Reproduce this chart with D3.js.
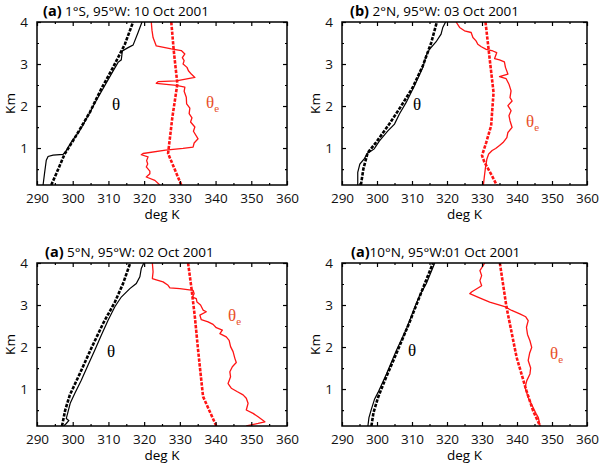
<!DOCTYPE html>
<html>
<head>
<meta charset="utf-8">
<script src="https://cdn.jsdelivr.net/npm/d3@7"></script>
<style>
  body { margin: 0; background: #fff; }
  svg { font-family: "Open Sans", "DejaVu Sans", sans-serif; }
  .domain { display: none; }
</style>
</head>
<body>
<div id="chart"></div>
<script>
// ------------------------------------------------------------
// data: [deg K, km]
// ------------------------------------------------------------
const xTicks = [290, 300, 310, 320, 330, 340, 350, 360];
const yTicks = [1, 2, 3, 4];

// (a) 1S
const thetaObs1 = [[291.7,0.12],[292.1,0.39],[292.6,0.71],[293.1,0.80],[294.5,0.83],[297.3,0.85],[298.2,0.94],[299.6,1.14],[302.0,1.42],[304.3,1.77],[306.6,2.13],[309.0,2.49],[310.8,2.76],[312.7,3.04],[313.6,3.10],[313.9,3.31],[315.5,3.39],[316.9,3.45],[318.3,3.75],[319.4,4.0]];
const thetaRef1 = [[294.0,0.12],[295.4,0.39],[296.8,0.67],[297.7,0.85],[301.0,1.30],[304.8,1.85],[308.0,2.41],[311.3,2.92],[314.6,3.47],[316.9,4.0]];
const thetaeObs1 = [[322.0,4.0],[322.2,3.80],[322.5,3.63],[323.4,3.43],[327.6,3.36],[330.4,3.32],[331.4,3.24],[330.7,3.15],[331.2,3.08],[330.9,3.00],[332.0,2.92],[332.4,2.84],[333.2,2.76],[334.2,2.68],[329.0,2.60],[323.9,2.58],[323.4,2.54],[329.0,2.49],[331.4,2.45],[331.2,2.35],[331.8,2.21],[331.9,2.05],[332.8,1.95],[332.6,1.82],[333.4,1.72],[333.0,1.62],[334.2,1.50],[333.8,1.40],[335.1,1.22],[334.0,1.12],[333.7,1.02],[330.9,0.99],[326.0,0.95],[319.7,0.87],[319.2,0.84],[321.1,0.79],[320.7,0.70],[321.0,0.62],[320.6,0.55],[321.6,0.45],[321.6,0.39],[320.6,0.31],[323.0,0.23],[324.4,0.12]];
const thetaeRef1 = [[330.4,0.12],[326.7,0.87],[327.9,1.73],[329.3,2.53],[328.3,3.31],[327.6,4.0]];

// (b) 2N
const thetaObs2 = [[294.5,0.12],[294.5,0.42],[295.1,0.62],[296.4,0.75],[297.3,0.88],[298.0,0.91],[299.2,0.98],[300.7,1.17],[303.1,1.41],[305.0,1.57],[306.4,1.81],[308.3,2.08],[310.7,2.48],[313.1,2.92],[314.0,3.19],[315.0,3.35],[316.9,3.53],[318.3,3.71],[318.8,3.87],[319.6,4.0]];
const thetaRef2 = [[295.4,0.12],[296.1,0.50],[297.3,0.88],[299.7,1.13],[303.5,1.57],[306.9,2.0],[310.2,2.44],[313.1,2.96],[315.5,3.51],[317.1,4.0]];
const thetaeObs2 = [[322.6,4.0],[323.6,3.87],[325.0,3.79],[326.9,3.75],[327.4,3.63],[328.3,3.55],[328.8,3.47],[329.8,3.41],[331.2,3.35],[333.1,3.31],[334.2,3.27],[333.6,3.13],[335.0,3.10],[336.4,3.05],[336.7,2.92],[337.4,2.76],[335.0,2.70],[336.9,2.65],[337.7,2.52],[338.3,2.36],[338.0,2.20],[338.6,2.12],[337.4,2.01],[338.3,1.89],[337.7,1.77],[338.0,1.65],[338.6,1.49],[337.4,1.37],[337.1,1.25],[336.0,1.13],[335.0,1.06],[333.9,0.99],[332.9,0.94],[331.9,0.86],[331.4,0.74],[331.0,0.54],[330.7,0.34],[330.4,0.12]];
const thetaeRef2 = [[331.0,4.0],[332.1,3.19],[333.3,2.32],[332.6,1.53],[331.2,1.13],[330.0,0.82],[330.7,0.66],[332.6,0.38],[334.2,0.12]];

// (a) 5N
const thetaObs3 = [[297.5,0.12],[298.2,0.18],[298.9,0.25],[298.2,0.30],[298.7,0.46],[299.3,0.66],[300.6,0.90],[302.4,1.21],[304.3,1.57],[306.2,1.93],[308.0,2.28],[309.9,2.64],[311.8,2.96],[313.6,3.19],[316.0,3.39],[317.8,3.51],[318.8,3.67],[319.2,3.87],[319.9,4.0]];
const thetaRef3 = [[297.0,0.12],[297.9,0.50],[299.2,0.86],[302.0,1.37],[305.2,1.97],[308.5,2.56],[311.8,3.07],[314.1,3.51],[316.1,4.0]];
const thetaeObs3 = [[322.3,4.0],[322.5,3.79],[322.3,3.63],[323.4,3.60],[325.3,3.55],[326.7,3.47],[327.2,3.41],[330.0,3.39],[333.7,3.35],[334.0,3.27],[333.5,3.19],[334.6,3.15],[334.8,3.07],[335.8,3.00],[336.5,2.88],[337.4,2.84],[335.6,2.76],[336.0,2.65],[337.9,2.60],[339.3,2.54],[340.2,2.46],[341.9,2.40],[341.2,2.32],[343.0,2.24],[343.8,2.16],[344.2,2.01],[344.9,1.89],[345.4,1.73],[345.8,1.63],[344.7,1.53],[344.0,1.41],[344.2,1.29],[343.5,1.13],[344.4,1.02],[346.0,0.94],[347.7,0.86],[348.6,0.78],[349.1,0.66],[348.6,0.50],[350.5,0.42],[351.9,0.34],[353.8,0.22],[351.9,0.18],[348.6,0.12]];
const thetaeRef3 = [[332.3,4.0],[333.2,3.43],[334.2,2.72],[335.1,1.93],[336.0,1.21],[336.5,0.82],[338.4,0.46],[340.2,0.12]];

// (a) 10N
const thetaObs4 = [[297.4,0.12],[297.7,0.32],[298.4,0.52],[299.3,0.76],[300.3,0.92],[302.7,1.36],[305.5,1.91],[308.4,2.43],[310.8,2.95],[312.2,3.23],[314.1,3.51],[316.5,4.0]];
const thetaRef4 = [[298.4,0.12],[299.0,0.44],[300.3,0.80],[302.2,1.20],[305.5,1.84],[309.3,2.59],[312.7,3.31],[316.0,4.0]];
const thetaeObs4 = [[330.8,4.0],[329.4,3.82],[329.9,3.70],[329.4,3.58],[329.9,3.46],[327.0,3.31],[326.5,3.27],[329.3,3.17],[332.2,3.07],[336.5,2.96],[338.5,2.87],[340.8,2.79],[342.5,2.72],[343.2,2.63],[342.7,2.47],[343.0,2.30],[343.7,2.15],[344.2,1.99],[343.6,1.85],[343.2,1.68],[343.9,1.50],[343.7,1.36],[342.8,1.20],[342.3,1.04],[343.2,0.80],[344.6,0.56],[345.4,0.42],[346.1,0.32],[346.6,0.12]];
const thetaeRef4 = [[335.1,4.0],[337.0,2.95],[339.9,1.75],[342.7,0.96],[344.6,0.48],[346.6,0.12]];

const panelTags = ["(a)", "(b)", "(a)", "(a)"];
const panelTitles = [" 1°S, 95°W: 10 Oct 2001", " 2°N, 95°W: 03 Oct 2001", " 5°N, 95°W: 02 Oct 2001", "10°N, 95°W:01 Oct 2001"];

// ------------------------------------------------------------
// layout
// ------------------------------------------------------------
const width = 600, height = 463;
const boxes = [
    { left: 37, right: 287, top: 22, bottom: 185, tx: 43, thetaAt: [116, 110], thetaeAt: [206, 108] },
    { left: 342, right: 587, top: 22, bottom: 185, tx: 350, thetaAt: [417, 110], thetaeAt: [526, 127] },
    { left: 37, right: 287, top: 263, bottom: 426, tx: 45, thetaAt: [111, 357], thetaeAt: [228, 321] },
    { left: 342, right: 587, top: 263, bottom: 426, tx: 351, thetaAt: [412, 356], thetaeAt: [550, 359] }
];
const series = [
    [thetaObs1, thetaRef1, thetaeObs1, thetaeRef1],
    [thetaObs2, thetaRef2, thetaeObs2, thetaeRef2],
    [thetaObs3, thetaRef3, thetaeObs3, thetaeRef3],
    [thetaObs4, thetaRef4, thetaeObs4, thetaeRef4]
];
const red = "#ff1414";

const svg = d3.select("#chart").append("svg")
    .attr("width", width)
    .attr("height", height);

boxes.forEach(function (b, i) {
    const x = d3.scaleLinear().domain([290, 360]).range([b.left, b.right]);
    const y = d3.scaleLinear().domain([0.12, 4]).range([b.bottom, b.top]);
    const g = svg.append("g");

    g.append("clipPath").attr("id", "clip" + i)
        .append("rect")
        .attr("x", b.left).attr("y", b.top)
        .attr("width", b.right - b.left).attr("height", b.bottom - b.top);

    const line = d3.line().x(d => x(d[0])).y(d => y(d[1]));
    const plot = g.append("g").attr("clip-path", "url(#clip" + i + ")");
    const [tObs, tRef, eObs, eRef] = series[i];

    plot.append("path").datum(tObs).attr("d", line)
        .attr("fill", "none").attr("stroke", "#000").attr("stroke-width", 1.2);
    plot.append("path").datum(tRef).attr("d", line)
        .attr("fill", "none").attr("stroke", "#000").attr("stroke-width", 2.6)
        .attr("stroke-dasharray", "3.4,1.4");
    plot.append("path").datum(eObs).attr("d", line)
        .attr("fill", "none").attr("stroke", red).attr("stroke-width", 1.3)
        .attr("stroke-linejoin", "round");
    plot.append("path").datum(eRef).attr("d", line)
        .attr("fill", "none").attr("stroke", red).attr("stroke-width", 2.6)
        .attr("stroke-dasharray", "3.4,1.4");

    // axes - inward ticks on all four sides
    const minorX = d3.range(295, 360, 10);
    const minorY = [0.5, 1.5, 2.5, 3.5];
    g.append("g").attr("transform", "translate(0," + b.bottom + ")")
        .call(d3.axisBottom(x).tickValues(xTicks).tickSize(-4).tickPadding(8).tickFormat(d3.format("d")));
    g.append("g").attr("transform", "translate(0," + b.bottom + ")")
        .call(d3.axisBottom(x).tickValues(minorX).tickSize(-2).tickFormat(""));
    g.append("g").attr("transform", "translate(0," + b.top + ")")
        .call(d3.axisTop(x).tickValues(xTicks).tickSize(-4).tickFormat(""));
    g.append("g").attr("transform", "translate(0," + b.top + ")")
        .call(d3.axisTop(x).tickValues(minorX).tickSize(-2).tickFormat(""));
    g.append("g").attr("transform", "translate(" + b.left + ",0)")
        .call(d3.axisLeft(y).tickValues(yTicks).tickSize(-4).tickPadding(9).tickFormat(d3.format("d")));
    g.append("g").attr("transform", "translate(" + b.left + ",0)")
        .call(d3.axisLeft(y).tickValues(minorY).tickSize(-2).tickFormat(""));
    g.append("g").attr("transform", "translate(" + b.right + ",0)")
        .call(d3.axisRight(y).tickValues(yTicks).tickSize(-4).tickFormat(""));
    g.append("g").attr("transform", "translate(" + b.right + ",0)")
        .call(d3.axisRight(y).tickValues(minorY).tickSize(-2).tickFormat(""));

    g.selectAll(".tick line").attr("stroke", "#000").attr("stroke-width", 1.2);
    g.selectAll(".tick text").attr("font-family", "'Open Sans', sans-serif")
        .attr("font-size", "13.5px").attr("fill", "#111");

    g.append("rect")
        .attr("x", b.left).attr("y", b.top)
        .attr("width", b.right - b.left).attr("height", b.bottom - b.top)
        .attr("fill", "none").attr("stroke", "#000").attr("stroke-width", 1.5);

    // axis titles
    g.append("text")
        .attr("x", (b.left + b.right) / 2).attr("y", b.bottom + 34)
        .attr("text-anchor", "middle").attr("font-size", "13.5px")
        .text("deg K");
    g.append("text")
        .attr("transform", "translate(" + (b.left - 22) + "," + ((b.top + b.bottom) / 2) + ") rotate(-90)")
        .attr("text-anchor", "middle").attr("font-size", "13.5px")
        .text("Km");

    // panel title
    const t = g.append("text").attr("x", b.tx).attr("y", b.top - 6).attr("font-size", "13.5px");
    t.append("tspan").attr("font-weight", "bold").attr("font-size", "14.5px").text(panelTags[i]);
    t.append("tspan").text(panelTitles[i]);

    // curve labels
    g.append("text")
        .attr("x", b.thetaAt[0]).attr("y", b.thetaAt[1])
        .attr("font-family", "'Liberation Serif', serif").attr("font-size", "17px")
        .attr("text-anchor", "middle").text("θ");
    const te = g.append("text")
        .attr("x", b.thetaeAt[0]).attr("y", b.thetaeAt[1])
        .attr("font-family", "'Liberation Serif', serif").attr("font-size", "17px")
        .attr("fill", "#e8502a");
    te.append("tspan").text("θ");
    te.append("tspan").attr("font-size", "11px").attr("dy", 4).text("e");
});
</script>
</body>
</html>
